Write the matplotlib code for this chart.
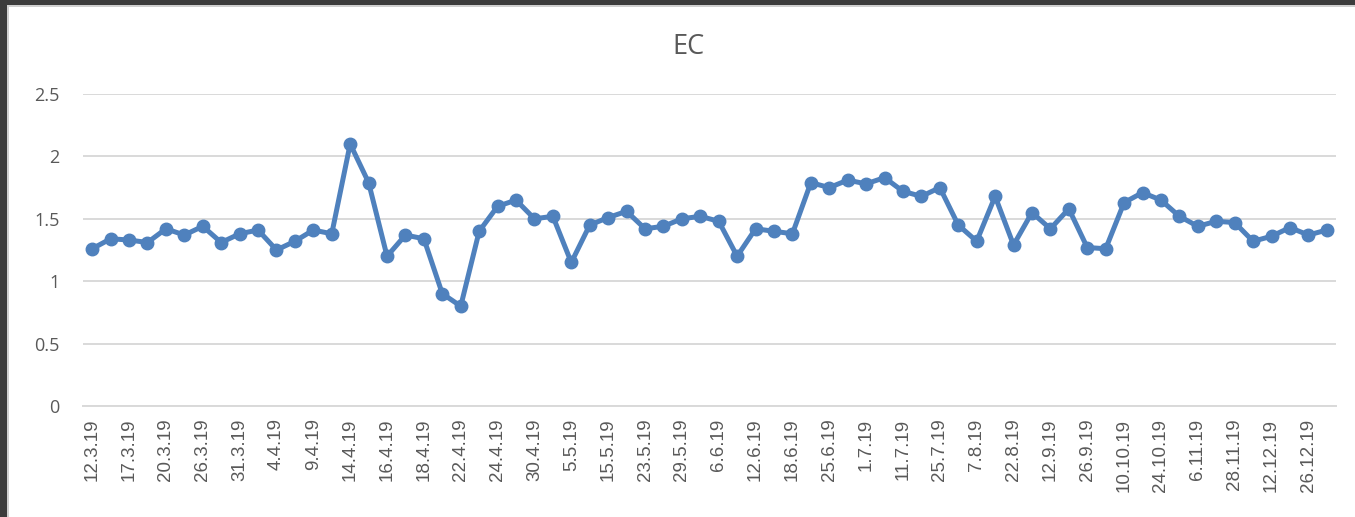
#!/usr/bin/env python3

import matplotlib
matplotlib.use("Agg")
import matplotlib.pyplot as plt
from matplotlib.patches import Rectangle

# EC readings, one per sampling date (every second date is labelled)
dates = [
    "12.3.19", "", "17.3.19", "", "20.3.19", "", "26.3.19", "", "31.3.19", "",
    "4.4.19", "", "9.4.19", "", "14.4.19", "", "16.4.19", "", "18.4.19", "",
    "22.4.19", "", "24.4.19", "", "30.4.19", "", "5.5.19", "", "15.5.19", "",
    "23.5.19", "", "29.5.19", "", "6.6.19", "", "12.6.19", "", "18.6.19", "",
    "25.6.19", "", "1.7.19", "", "11.7.19", "", "25.7.19", "", "7.8.19", "",
    "22.8.19", "", "12.9.19", "", "26.9.19", "", "10.10.19", "", "24.10.19", "",
    "6.11.19", "", "28.11.19", "", "12.12.19", "", "26.12.19", "",
]
ec = [
    1.26, 1.34, 1.33, 1.31, 1.42, 1.37, 1.44, 1.31, 1.38, 1.41,
    1.25, 1.32, 1.41, 1.38, 2.10, 1.79, 1.20, 1.37, 1.34, 0.90,
    0.80, 1.40, 1.60, 1.65, 1.50, 1.52, 1.15, 1.45, 1.51, 1.56,
    1.42, 1.44, 1.50, 1.52, 1.48, 1.20, 1.42, 1.40, 1.38, 1.79,
    1.75, 1.81, 1.78, 1.83, 1.72, 1.68, 1.75, 1.45, 1.32, 1.68,
    1.29, 1.55, 1.42, 1.58, 1.27, 1.26, 1.63, 1.71, 1.65, 1.52,
    1.44, 1.48, 1.47, 1.32, 1.36, 1.43, 1.37, 1.41,
]
yticks = [0, 0.5, 1, 1.5, 2, 2.5]

TEXT = "#595959"
GRID = "#d9d9d9"
BLUE = "#4f81bd"

fig = plt.figure(figsize=(13.55, 5.17), dpi=100)
fig.patch.set_facecolor("white")

# dark frame on the top and left edges of the window
fig.patches.append(Rectangle((0, 1 - 5 / 517), 1, 5 / 517, transform=fig.transFigure,
                             facecolor="#3c3c3c", edgecolor="none", zorder=0))
fig.patches.append(Rectangle((0, 1 - 7 / 517), 1, 2 / 517, transform=fig.transFigure,
                             facecolor="#d0d0d0", edgecolor="none", zorder=0))
fig.patches.append(Rectangle((0, 0), 7 / 1355, 1, transform=fig.transFigure,
                             facecolor="#3c3c3c", edgecolor="none", zorder=0))
fig.patches.append(Rectangle((7 / 1355, 0), 1.5 / 1355, 1 - 5 / 517, transform=fig.transFigure,
                             facecolor="#d0d0d0", edgecolor="none", zorder=0))

ax = fig.add_axes([83 / 1355, (517 - 406) / 517, 1253 / 1355, 312 / 517])
x = list(range(len(ec)))
ax.plot(x, ec, color=BLUE, lw=3.6, marker="o", ms=9, zorder=3,
        solid_joinstyle="round", solid_capstyle="round")

ax.set_xlim(-0.5, len(ec) - 0.5)
ax.set_ylim(0, 2.5)
ax.set_yticks(yticks)
ax.set_yticklabels([f"{v:g}" for v in yticks], fontsize=13, color=TEXT,
                   family="Open Sans")
ax.set_xticks(x)
ax.set_xticklabels(dates, rotation=90, fontsize=13.5, color=TEXT,
                   family="Liberation Sans", va="top", ha="center")
ax.tick_params(axis="y", length=0, pad=17)
ax.tick_params(axis="x", length=0, pad=9)

ax.grid(axis="y", color=GRID, lw=1.4)
ax.set_axisbelow(True)
for side in ["top", "right", "left"]:
    ax.spines[side].set_visible(False)
ax.spines["bottom"].set_color(GRID)
ax.spines["bottom"].set_linewidth(1.4)

fig.text(688 / 1355, 1 - 47 / 517, "EC", fontsize=19.5, color=TEXT,
         family="Open Sans", ha="center", va="center")

fig.savefig("out.png", dpi=100, facecolor="white")
